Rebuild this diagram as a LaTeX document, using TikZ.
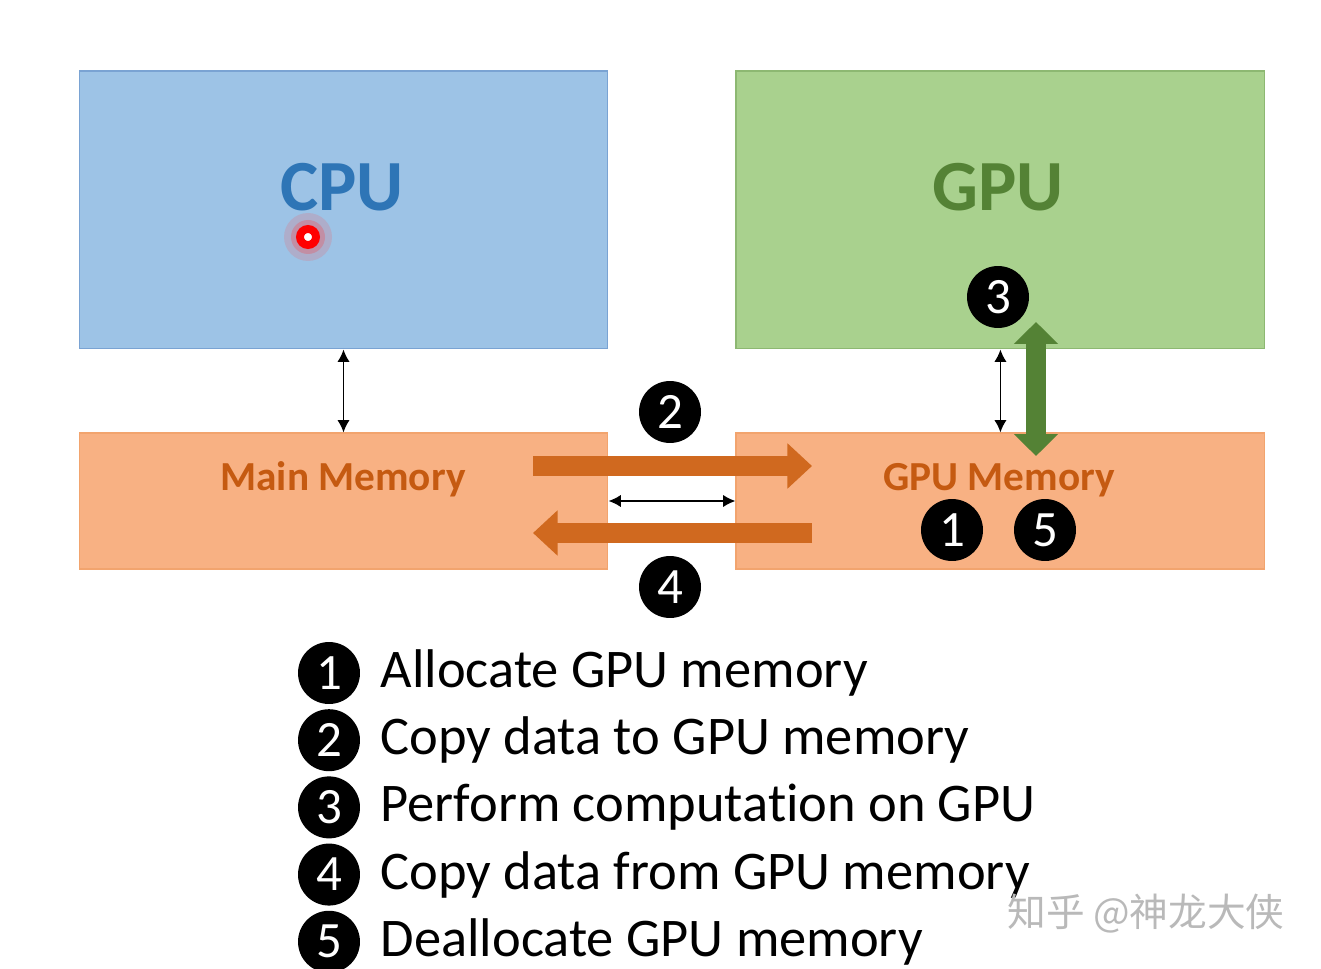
\documentclass[tikz,border=0pt]{standalone}
\usepackage{fontspec}
\setmainfont{Carlito}[Ligatures=NoCommon]
\newfontfamily\cjkfont{Noto Sans CJK SC}
\usetikzlibrary{arrows.meta, positioning, calc}
\definecolor{cpufill}{HTML}{9DC3E6}
\definecolor{cpuline}{HTML}{7AA3D3}
\definecolor{cputext}{HTML}{2E75B6}
\definecolor{gpufill}{HTML}{A9D18E}
\definecolor{gpuline}{HTML}{8DB872}
\definecolor{gputext}{HTML}{548235}
\definecolor{memfill}{HTML}{F8B183}
\definecolor{memline}{HTML}{F2A46E}
\definecolor{memtext}{HTML}{C55A11}
\definecolor{xfer}{HTML}{D0691F}

\begin{document}
\begin{tikzpicture}[
    x=0.02cm, y=-0.02cm,
    every node/.style={inner sep=0pt},
    unit/.style={rectangle, draw=#1line, fill=#1fill, line width=0.6pt,
                 minimum width=10.58cm, minimum height=5.56cm},
    mem/.style={rectangle, draw=memline, fill=memfill, line width=0.6pt,
                minimum width=10.58cm, minimum height=2.72cm},
    bigtxt/.style={font=\fontsize{41}{41}\selectfont\bfseries, text height=26.5pt, text depth=0pt},
    memtxt/.style={font=\fontsize{23.5}{23.5}\selectfont\bfseries, text=memtext,
                   text height=15.1pt, text depth=0pt},
    num/.style={circle, fill=black, minimum size=1.24cm, text=white,
                font=\fontsize{29}{29}\selectfont, text height=18.3pt, text depth=0pt},
    item/.style={font=\fontsize{31}{31}\selectfont, text height=20pt, text depth=0pt, yshift=0.06cm},
    wmark/.style={font=\cjkfont\fontsize{22}{22}\selectfont, text=gray!55},
    pointer/.style={circle, draw=red, fill=white, line width=4.5pt, minimum size=0.32cm},
    link/.style={{Latex[length=7pt,width=7pt]}-{Latex[length=7pt,width=7pt]}, line width=1pt},
    xferarr/.style={-{Triangle[length=14pt,width=25pt]}, line width=11.4pt, xfer},
    computearr/.style={{Triangle[length=12.5pt,width=24.5pt]}-{Triangle[length=12.5pt,width=24.5pt]},
                       line width=11.4pt, gputext}
]
    \useasboundingbox (0,0) rectangle (1321,969);
    \fill[white] (0,0) rectangle (1321,969);

    % processors and their memories
    \node[unit=cpu] (cpu) at (343.5,210) {};
    \node[unit=gpu, right=2.54cm of cpu] (gpu) {};
    \node[mem, below=1.66cm of cpu] (mainmem) {};
    \node[mem, below=1.66cm of gpu] (gpumem) {};

    \node[bigtxt, text=cputext] (cpulabel) at (342,187) {CPU};
    \node[bigtxt, text=gputext] (gpulabel) at (998,187) {GPU};
    \node[memtxt] (mainlabel) at (343,477) {Main Memory};
    \node[memtxt] (gpumemlabel) at (999,477) {GPU Memory};

    % laser pointer
    \fill[red!70, opacity=0.18] (308,237) circle (24);
    \fill[red!80, opacity=0.25] (308,237) circle (17);
    \node[pointer] (dot) at (308,237) {};

    % buses
    \draw[link] (cpu.south) -- (mainmem.north);
    \draw[link] (gpu.south) -- (gpumem.north);
    \draw[link] (mainmem.east) -- (gpumem.west);

    % copies and computation
    \coordinate (tostart) at (533,466);
    \coordinate (toend) at (812,466);
    \coordinate (fromstart) at (812,533);
    \coordinate (fromend) at (533,533);
    \coordinate (comptop) at (1036,322);
    \coordinate (compbot) at (1036,456);
    \draw[xferarr] (tostart) -- (toend);
    \draw[xferarr] (fromstart) -- (fromend);
    \draw[computearr] (comptop) -- (compbot);

    \node[num] (s3) at (998,297) {3};
    \node[num] (s2) at (670,412) {2};
    \node[num] (s4) at (670,587) {4};
    \node[num] (s1) at (952,530) {1};
    \node[num] (s5) at (1045,530) {5};

    % legend
    \node[num] (k1) at (329,673) {1};
    \node[item, right=0.4cm of k1] (t1) {Allocate GPU memory};
    \node[num, below=0.09cm of k1] (k2) {2};
    \node[item, right=0.4cm of k2] (t2) {Copy data to GPU memory};
    \node[num, below=0.09cm of k2] (k3) {3};
    \node[item, right=0.4cm of k3] (t3) {Perform computation on GPU};
    \node[num, below=0.09cm of k3] (k4) {4};
    \node[item, right=0.4cm of k4] (t4) {Copy data from GPU memory};
    \node[num, below=0.09cm of k4] (k5) {5};
    \node[item, right=0.4cm of k5] (t5) {Deallocate GPU memory};

    \node[wmark] (credit) at (1146,914) {知乎 @神龙大侠};
\end{tikzpicture}
\end{document}
